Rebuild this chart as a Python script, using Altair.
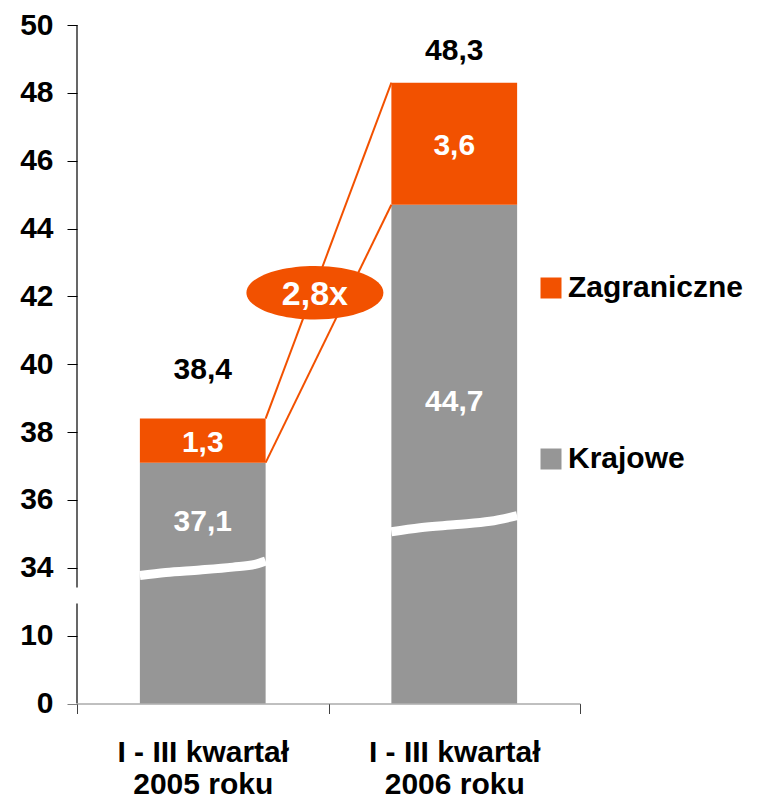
import altair as alt
import pandas as pd

FONT = "Liberation Sans"

# ---- data ----
cat_line1 = ["I - III kwartał", "I - III kwartał"]
cat_line2 = ["2005 roku", "2006 roku"]
krajowe = [37.1, 44.7]
zagraniczne = [1.3, 3.6]
totals = [38.4, 48.3]
series_names = ["Zagraniczne", "Krajowe"]
series_colors = ["#F25100", "#969696"]
ratio_label = "2,8x"

# annotation anchors (x in category units, y in value units)
ratio_anchor = [0.946, 42.11]
total_label_y = [39.9, 49.3]
krajowe_label_y = [35.4, 38.95]

# broken value axis
y_ticks = [0, 10, 34, 36, 38, 40, 42, 44, 46, 48, 50]
y_domain = [0, 10, 34, 50]
axis_segments = [[0, 21.4], [27.0, 50]]

# white "break" waves across the bars
wave1_x = [0.25, 0.353, 0.489, 0.62, 0.708, 0.75]
wave1_y = [31.28, 32.34, 33.22, 34.02, 34.10, 34.2]
wave2_x = [1.25, 1.364, 1.51, 1.642, 1.75]
wave2_y = [35.064, 35.182, 35.276, 35.371, 35.536]

W, H = 503, 678.5
step = H / 10.0
y_range = [H, H - step, H - 2 * step, 0]


def fmt(v):
    return f"{v:.1f}".replace(".", ",")


n = len(krajowe)
ORANGE, GRAY = series_colors

bar_rows = []
for i in range(n):
    bar_rows.append(dict(series="Krajowe", x0=i + 0.25, x1=i + 0.75, y0=0, y1=krajowe[i]))
    bar_rows.append(dict(series="Zagraniczne", x0=i + 0.25, x1=i + 0.75,
                         y0=krajowe[i], y1=krajowe[i] + zagraniczne[i]))
bars_df = pd.DataFrame(bar_rows)

x_scale = alt.Scale(domain=[0, n], nice=False, zero=False)
y_scale = alt.Scale(domain=y_domain, range=y_range, nice=False, zero=False)

label_expr = " : ".join(
    f"datum.value == {i + 0.5} ? ['{cat_line1[i]}', '{cat_line2[i]}']" for i in range(n)
) + " : ''"

x_axis = alt.Axis(
    values=[k * 0.5 for k in range(2 * n + 1)],
    title=None, grid=False,
    domainColor="#808080", domainWidth=1,
    tickColor="#404040", tickSize=10,
    tickOpacity={"condition": {"test": "datum.value % 1 === 0", "value": 1}, "value": 0},
    labelExpr=label_expr, labelFont=FONT, labelFontSize=30, labelFontWeight="bold",
    labelColor="black", labelPadding=24, labelLineHeight=32,
    labelOverlap=False, labelFlush=False,
)
y_axis = alt.Axis(
    values=y_ticks, title=None, grid=False, domain=False,
    tickSize=10,
    tickColor={"condition": {"test": "datum.value === 0", "value": "#808080"}, "value": "black"},
    labelFont=FONT, labelFontSize=30, labelFontWeight="bold", labelColor="black",
    labelPadding=14,
)
legend = alt.Legend(
    orient="none", legendX=459, legendY=248, title=None,
    symbolType="square", symbolSize=441, symbolStrokeWidth=0, symbolOpacity=1,
    labelFont=FONT, labelFontSize=30, labelFontWeight="bold", labelColor="black",
    labelOffset=2, rowPadding=141, direction="vertical", labelLimit=400,
)

bars = alt.Chart(bars_df).mark_bar(strokeWidth=0).encode(
    x=alt.X("x0:Q", scale=x_scale, axis=x_axis),
    x2="x1:Q",
    y=alt.Y("y0:Q", scale=y_scale, axis=y_axis),
    y2="y1:Q",
    color=alt.Color("series:N", scale=alt.Scale(domain=series_names, range=series_colors),
                    legend=legend, sort=series_names),
)

# waves
wave_df = pd.DataFrame(
    [dict(bar=0, x=a, y=b) for a, b in zip(wave1_x, wave1_y)]
    + [dict(bar=1, x=a, y=b) for a, b in zip(wave2_x, wave2_y)]
)
waves = alt.Chart(wave_df).mark_line(color="white", strokeWidth=9, interpolate="monotone",
                                      strokeCap="butt").encode(
    x=alt.X("x:Q", scale=x_scale),
    y=alt.Y("y:Q", scale=y_scale),
    detail="bar:N",
)

# y axis line (broken)
axis_df = pd.DataFrame([dict(x=0, y0=a, y1=b) for a, b in axis_segments])
axis_rules = alt.Chart(axis_df).mark_rule(color="black", strokeWidth=1.2).encode(
    x=alt.X("x:Q", scale=x_scale),
    y=alt.Y("y0:Q", scale=y_scale),
    y2="y1:Q",
)

# connecting lines
conn_df = pd.DataFrame([
    dict(x0=0.75, x1=1.25, y0=totals[0], y1=totals[1]),
    dict(x0=0.75, x1=1.25, y0=krajowe[0], y1=krajowe[1]),
])
conn = alt.Chart(conn_df).mark_rule(color=ORANGE, strokeWidth=2).encode(
    x=alt.X("x0:Q", scale=x_scale), x2="x1:Q",
    y=alt.Y("y0:Q", scale=y_scale), y2="y1:Q",
)

ellipse_path = ("M -1 0 C -1 -0.2154 -0.5523 -0.39 0 -0.39 C 0.5523 -0.39 1 -0.2154 1 0 "
                "C 1 0.2154 0.5523 0.39 0 0.39 C -0.5523 0.39 -1 0.2154 -1 0 Z")
ratio_df = pd.DataFrame([dict(x=ratio_anchor[0], y=ratio_anchor[1], t=ratio_label)])
ellipse = alt.Chart(ratio_df).mark_point(shape=ellipse_path, size=137 ** 2, filled=True,
                                         fill=ORANGE, opacity=1, strokeWidth=0).encode(
    x=alt.X("x:Q", scale=x_scale),
    y=alt.Y("y:Q", scale=y_scale),
)
ratio_text = alt.Chart(ratio_df).mark_text(font=FONT, fontSize=34, fontWeight="bold",
                                           color="white", baseline="middle", dy=2).encode(
    x=alt.X("x:Q", scale=x_scale),
    y=alt.Y("y:Q", scale=y_scale),
    text="t:N",
)

# value labels
tot_df = pd.DataFrame([dict(x=i + 0.5, y=total_label_y[i], t=fmt(totals[i])) for i in range(n)])
zag_df = pd.DataFrame([dict(x=i + 0.5, y=krajowe[i] + zagraniczne[i] / 2, t=fmt(zagraniczne[i]))
                       for i in range(n)])
kra_df = pd.DataFrame([dict(x=i + 0.5, y=krajowe_label_y[i], t=fmt(krajowe[i])) for i in range(n)])


def text_layer(df, color):
    return alt.Chart(df).mark_text(font=FONT, fontSize=30, fontWeight="bold", color=color,
                                   baseline="middle", dy=2).encode(
        x=alt.X("x:Q", scale=x_scale),
        y=alt.Y("y:Q", scale=y_scale),
        text="t:N",
    )


chart = alt.layer(
    bars, waves, axis_rules, conn, ellipse, ratio_text,
    text_layer(tot_df, "black"), text_layer(zag_df, "white"), text_layer(kra_df, "white"),
).properties(
    width=W, height=H,
    padding={"left": 69, "top": 17, "right": 169, "bottom": 100},
    autosize=alt.AutoSizeParams(type="none"),
).configure_view(strokeWidth=0)

chart.save("out.html", embed_options={"renderer": "svg", "actions": False})
